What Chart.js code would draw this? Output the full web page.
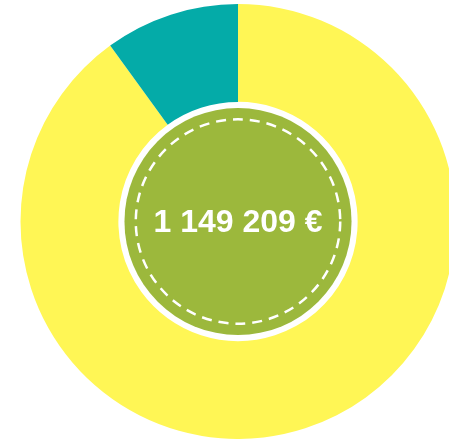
<!DOCTYPE html>
<html>
<head>
<meta charset="utf-8">
<script src="https://cdn.jsdelivr.net/npm/chart.js@4"></script>
<style>
  html, body { margin: 0; padding: 0; overflow: hidden; background: #fff; }
  .wrap { width: 476px; height: 439px; }
</style>
</head>
<body>
<div class="wrap"><canvas id="chart" width="476" height="439"></canvas></div>
<script>
const labels = ["Autres", "Part"];
const values = [90, 10];
const colors = ["#fff655", "#04aba8"];
const totalLabel = "1 149 209 €";

// green disc + dashed ring + total in the hole
const centerBadge = {
  id: "centerBadge",
  afterDraw(chart) {
    const arc = chart.getDatasetMeta(0).data[0];
    const { ctx } = chart;
    const x = arc.x, y = arc.y;
    const r = arc.outerRadius;
    ctx.save();
    ctx.fillStyle = "#9cb83c";
    ctx.beginPath();
    ctx.arc(x, y, r * 0.522, 0, Math.PI * 2);
    ctx.fill();

    ctx.strokeStyle = "#fff";
    ctx.lineWidth = 2.5;
    ctx.setLineDash([10, 7]);
    ctx.beginPath();
    ctx.arc(x, y, r * 0.47, 0, Math.PI * 2);
    ctx.stroke();

    ctx.setLineDash([]);
    ctx.fillStyle = "#fff";
    ctx.font = "bold 32px 'Liberation Sans', Arial, sans-serif";
    ctx.textAlign = "center";
    ctx.textBaseline = "middle";
    ctx.fillText(totalLabel, x, y + 2);
    ctx.restore();
  },
};

new Chart(document.getElementById("chart"), {
  type: "doughnut",
  data: {
    labels: labels,
    datasets: [
      {
        data: values,
        backgroundColor: colors,
        borderWidth: 0,
      },
    ],
  },
  options: {
    responsive: false,
    animation: false,
    cutout: "55%",
    layout: { padding: { top: 4 } },
    plugins: {
      legend: { display: false },
      tooltip: { enabled: false },
    },
  },
  plugins: [centerBadge],
});
</script>
</body>
</html>
